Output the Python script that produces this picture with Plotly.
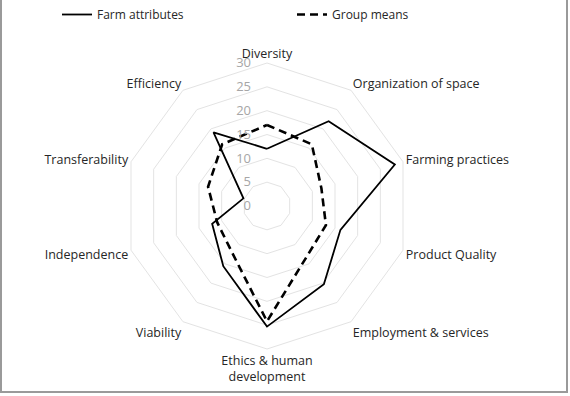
import plotly.graph_objects as go

categories = ["Diversity", "Organization of space", "Farming practices", "Product Quality",
              "Employment & services", "Ethics & human<br>development", "Viability",
              "Independence", "Transferability", "Efficiency"]
farm_attributes = [12, 22, 28.2, 16.2, 20.3, 25.3, 15.6, 12.1, 5.2, 19.1]
group_means = [17, 16, 12, 13, 13.7, 24.2, 12.3, 11, 13, 16]
radial_ticks = [0, 5, 10, 15, 20, 25, 30]
radial_ticktext = [str(v) + "\u00a0" * 4 for v in radial_ticks]

W, H = 570, 396
cx, cy, R = 267, 206, 143

fig = go.Figure()
fig.add_trace(go.Scatterpolar(
    r=farm_attributes + farm_attributes[:1], theta=categories + categories[:1],
    mode="lines", name="Farm attributes",
    line=dict(color="black", width=1.8)))
fig.add_trace(go.Scatterpolar(
    r=group_means + group_means[:1], theta=categories + categories[:1],
    mode="lines", name="Group means",
    line=dict(color="black", width=2.6, dash="8px,5px")))

fig.update_layout(
    width=W, height=H,
    margin=dict(l=0, r=0, t=0, b=0),
    paper_bgcolor="white", plot_bgcolor="white",
    font=dict(family="Open Sans, sans-serif", size=12, color="#262626"),
    polar=dict(
        domain=dict(x=[(cx - R) / W, (cx + R) / W],
                    y=[(H - cy - R) / H, (H - cy + R) / H]),
        bgcolor="white",
        gridshape="linear",
        radialaxis=dict(range=[0, 30], tickvals=radial_ticks, ticktext=radial_ticktext,
                        angle=90, side="counterclockwise", showline=False,
                        gridcolor="#e3e3e3", gridwidth=1, ticks="",
                        tickfont=dict(size=13, color="#a6a6a6"), tickangle=90),
        angularaxis=dict(direction="clockwise", rotation=90, showgrid=False,
                         linecolor="#e3e3e3", linewidth=1, ticks="",
                         tickfont=dict(size=12.5, color="#262626")),
    ),
    legend=dict(orientation="h", x=0.10, y=1.0, xanchor="left", yanchor="top",
                entrywidth=190, entrywidthmode="pixels",
                font=dict(size=12, color="#262626"), bgcolor="rgba(0,0,0,0)"),
    shapes=[dict(type="rect", xref="paper", yref="paper",
                 x0=1 / W, x1=567 / W, y0=(H - 392) / H, y1=1.05,
                 line=dict(color="#9a9a9a", width=2))],
)

fig.write_html("out.html")
